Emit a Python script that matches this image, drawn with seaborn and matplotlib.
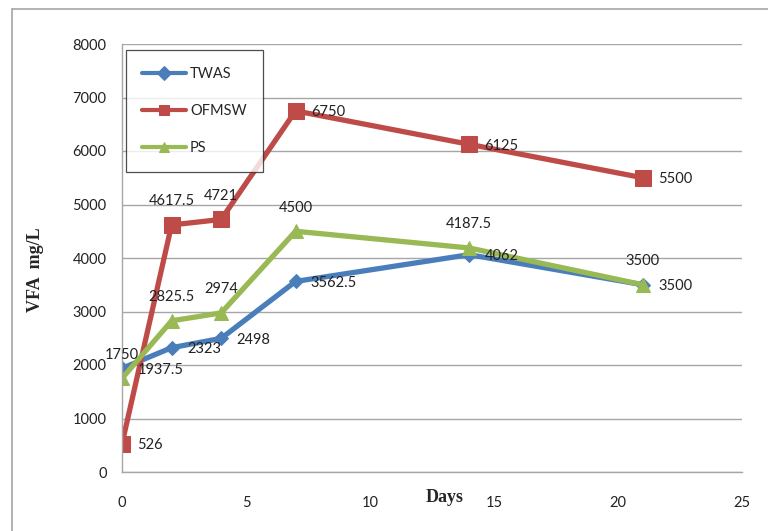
import matplotlib
matplotlib.use("Agg")
import matplotlib.pyplot as plt
import pandas as pd
import seaborn as sns
from matplotlib.lines import Line2D

# data
days = [0, 2, 4, 7, 14, 21]
twas = [1937.5, 2323, 2498, 3562.5, 4062, 3500]
ofmsw = [526, 4617.5, 4721, 6750, 6125, 5500]
ps = [1750, 2825.5, 2974, 4500, 4187.5, 3500]
series_names = ['TWAS', 'OFMSW', 'PS']

sns.set_style('white')
plt.rcParams['font.family'] = ['Lato', 'DejaVu Sans']

df = pd.DataFrame({'day': days, 'TWAS': twas, 'OFMSW': ofmsw, 'PS': ps})
df = df.melt(id_vars='day', var_name='series', value_name='vfa')

colors = {'TWAS': '#4A7EBB', 'OFMSW': '#BE4B48', 'PS': '#98B954'}
markers = {'TWAS': 'D', 'OFMSW': 's', 'PS': '^'}
msizes = {'TWAS': 7, 'OFMSW': 11, 'PS': 10}
# where the data labels sit: 'r' = right of point, 'a' = above
label_pos = {
    'TWAS': ['r', 'r', 'r', 'r', 'r', 'r'],
    'OFMSW': ['r', 'a', 'a', 'r', 'r', 'r'],
    'PS': ['a', 'a', 'a', 'a', 'a', 'a'],
}

fig = plt.figure(figsize=(7.68, 5.31), dpi=100)
ax = fig.add_axes([122 / 768, 1 - 472 / 531, 620 / 768, 428 / 531])

for name in series_names:
    sub = df[df['series'] == name]
    sns.lineplot(data=sub, x='day', y='vfa', ax=ax, color=colors[name],
                 marker=markers[name], markersize=msizes[name], linewidth=3.8,
                 markeredgecolor=colors[name], label=name)
    for (x, y), pos in zip(zip(sub['day'], sub['vfa']), label_pos[name]):
        txt = f'{y:g}'
        if pos == 'r':
            ax.annotate(txt, (x, y), xytext=(11, -1), textcoords='offset points',
                        ha='left', va='center', fontsize=10.5, color='#222222')
        else:
            ax.annotate(txt, (x, y), xytext=(0, 17), textcoords='offset points',
                        ha='center', va='center', fontsize=10.5, color='#222222')

ax.set_xlim(0, 25)
ax.set_ylim(0, 8000)
ax.set_xticks([0, 5, 10, 15, 20, 25])
ax.set_yticks(range(0, 8001, 1000))
ax.tick_params(axis='both', length=0, labelsize=10.5, colors='#222222')
ax.tick_params(axis='x', pad=17)
ax.tick_params(axis='y', pad=11)
ax.yaxis.grid(True, color='#A6A6A6', linewidth=1)
ax.set_axisbelow(True)
for s in ['top', 'right']:
    ax.spines[s].set_visible(False)
for s in ['left', 'bottom']:
    ax.spines[s].set_color('#A6A6A6')
    ax.spines[s].set_linewidth(1)
ax.set_xlabel('')
ax.set_ylabel('')

leg = ax.legend(loc='upper left', bbox_to_anchor=(0.006, 0.986), fontsize=10.5,
                labelspacing=1.6, handlelength=3.0, borderpad=1.15,
                handletextpad=0.25, fancybox=False, frameon=True,
                borderaxespad=0)
leg.get_frame().set_edgecolor('#222222')
leg.get_frame().set_linewidth(0.9)
for h in leg.legend_handles:
    h.set_linewidth(3)
    h.set_markersize(7)

fig.text(35 / 768, 1 - 270 / 531, 'VFA  mg/L', rotation=90, ha='center',
         va='center', fontsize=13, fontweight='bold', family='Liberation Serif')
fig.text(445 / 768, 1 - 497 / 531, 'Days', ha='center', va='center',
         fontsize=13, fontweight='bold', family='Liberation Serif')

# outer chart border (top and left edges visible)
fig.add_artist(Line2D([12 / 768, 12 / 768], [0, 1 - 9 / 531],
                      transform=fig.transFigure, color='#A6A6A6', linewidth=1.2))
fig.add_artist(Line2D([12 / 768, 1], [1 - 9 / 531, 1 - 9 / 531],
                      transform=fig.transFigure, color='#A6A6A6', linewidth=1.2))

fig.savefig('out.png', dpi=100)
